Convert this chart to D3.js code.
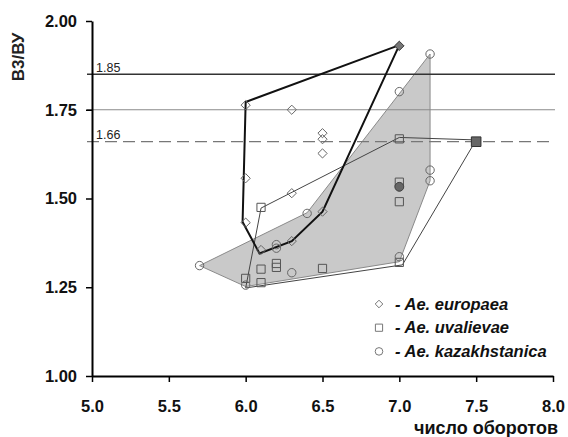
<!DOCTYPE html>
<html>
<head>
<meta charset="utf-8">
<script src="https://cdn.jsdelivr.net/npm/d3@7"></script>
<style>
  body { margin: 0; background: #fff; }
  svg { display: block; font-family: "Liberation Sans", Arial, sans-serif; }
</style>
</head>
<body>
<script>
// points: [число оборотов, В3/ВУ]
const europaea = [
  [7.0, 1.93], [6.0, 1.763], [6.3, 1.75], [6.5, 1.684], [6.5, 1.667], [6.5, 1.627],
  [6.0, 1.557], [6.3, 1.515], [6.0, 1.432], [6.5, 1.463], [6.3, 1.38], [6.1, 1.355]
];
const uvalievae = [
  [7.5, 1.66], [7.0, 1.668], [6.1, 1.475], [7.0, 1.546], [7.0, 1.491], [6.1, 1.301],
  [6.2, 1.306], [6.2, 1.317], [6.5, 1.303], [6.0, 1.275], [6.1, 1.263], [7.0, 1.32]
];
const kazakhstanica = [
  [7.2, 1.907], [7.0, 1.801], [7.2, 1.58], [7.2, 1.55], [7.0, 1.533], [7.0, 1.336],
  [6.4, 1.458], [6.2, 1.37], [6.2, 1.36], [6.3, 1.291], [5.7, 1.311], [6.0, 1.256]
];
// filled (dark) markers
const europaeaMark = [[7.0, 1.93]];
const uvalievaeMark = [[7.5, 1.66]];
const kazakhstanicaMark = [[7.0, 1.533]];

// outlines as drawn in the figure
const europaeaOutline = [[7.0, 1.932], [6.0, 1.772], [5.98, 1.434], [6.09, 1.345], [6.3, 1.38], [6.5, 1.463]];
const uvalievaeOutline = [[6.1, 1.473], [7.0, 1.672], [7.5, 1.665], [7.02, 1.313], [6.0, 1.248]];
const kazakhstanicaOutline = [[5.7, 1.311], [6.4, 1.46], [7.2, 1.907], [7.2, 1.55], [7.0, 1.322], [6.0, 1.252]];

const xTicks = [5.0, 5.5, 6.0, 6.5, 7.0, 7.5, 8.0];
const yTicks = [1.00, 1.25, 1.50, 1.75, 2.00];
const refValues = [1.85, 1.75, 1.66];
const refLabels = ["1.85", "", "1.66"];
const legendNames = ["- Ae. europaea", "- Ae. uvalievae", "- Ae. kazakhstanica"];

const width = 568, height = 437;

const x = d3.scaleLinear().domain([5, 8]).range([92, 553]);
const y = d3.scaleLinear().domain([1, 2]).range([376, 21]);

const svg = d3.select("body").append("svg")
  .attr("width", width)
  .attr("height", height);

const line = d3.line().x(d => x(d[0])).y(d => y(d[1])).curve(d3.curveLinearClosed);

// shaded area of kazakhstanica
svg.append("path")
  .attr("d", line(kazakhstanicaOutline))
  .attr("fill", "#c9c9c9")
  .attr("stroke", "#8a8a8a")
  .attr("stroke-width", 1);

// reference lines
const refStyle = [
  { c: "#333", w: 1.3, dash: null },
  { c: "#8a8a8a", w: 1.2, dash: null },
  { c: "#777", w: 1.2, dash: "12,6" }
];
refValues.forEach((v, i) => {
  svg.append("line")
    .attr("x1", 87).attr("x2", 555)
    .attr("y1", y(v)).attr("y2", y(v))
    .attr("stroke", refStyle[i].c)
    .attr("stroke-width", refStyle[i].w)
    .attr("stroke-dasharray", refStyle[i].dash);
  if (refLabels[i]) {
    svg.append("text")
      .attr("x", 96).attr("y", y(v) - 2.5)
      .attr("font-size", 12.5)
      .attr("fill", "#222")
      .text(refLabels[i]);
  }
});

// uvalievae outline
svg.append("path")
  .attr("d", line(uvalievaeOutline))
  .attr("fill", "none")
  .attr("stroke", "#444")
  .attr("stroke-width", 1);

// europaea outline
svg.append("path")
  .attr("d", line(europaeaOutline))
  .attr("fill", "none")
  .attr("stroke", "#111")
  .attr("stroke-width", 2);

const diamond = s => `M0,${-s}L${s},0L0,${s}L${-s},0Z`;
const square = s => `M${-s},${-s}H${s}V${s}H${-s}Z`;
const circle = r => `M${r},0A${r},${r} 0 1,1 ${-r},0A${r},${r} 0 1,1 ${r},0Z`;

function drawMarks(data, shape, fill, stroke) {
  svg.append("g").selectAll("path")
    .data(data)
    .join("path")
    .attr("transform", d => `translate(${x(d[0])},${y(d[1])})`)
    .attr("d", shape)
    .attr("fill", fill)
    .attr("stroke", stroke)
    .attr("stroke-width", 1);
}

drawMarks(europaea, diamond(4.6), "none", "#666");
drawMarks(uvalievae, square(4.1), "none", "#555");
drawMarks(kazakhstanica, circle(4.2), "none", "#666");
drawMarks(europaeaMark, diamond(4.6), "#777", "#444");
drawMarks(uvalievaeMark, square(4.8), "#666", "#333");
drawMarks(kazakhstanicaMark, circle(4.4), "#666", "#444");

// axes
const xAxis = svg.append("g")
  .attr("transform", `translate(0,${y(1)})`)
  .call(d3.axisBottom(x).tickValues(xTicks).tickFormat(d3.format(".1f")).tickSize(6).tickSizeOuter(0));
const yAxis = svg.append("g")
  .attr("transform", `translate(${x(5)},0)`)
  .call(d3.axisLeft(y).tickValues(yTicks).tickFormat(d3.format(".2f")).tickSize(6).tickSizeOuter(0));

[xAxis, yAxis].forEach(a => {
  a.select(".domain").attr("stroke", "#000").attr("stroke-width", 2);
  a.selectAll(".tick line").attr("stroke", "#000").attr("stroke-width", 1.5);
  a.selectAll(".tick text")
    .attr("fill", "#111")
    .attr("font-size", 16.5)
    .attr("font-weight", "bold")
    .attr("font-family", "'Liberation Sans', Arial, sans-serif");
});
xAxis.selectAll(".tick text").attr("y", 0).attr("dy", 36);
yAxis.selectAll(".tick text").attr("x", -15);

// axis titles
svg.append("text")
  .attr("transform", "translate(24,57) rotate(-90)")
  .attr("text-anchor", "middle")
  .attr("font-size", 17)
  .attr("font-weight", "bold")
  .attr("fill", "#222")
  .text("В3/ВУ");

svg.append("text")
  .attr("x", 558).attr("y", 434)
  .attr("text-anchor", "end")
  .attr("font-size", 18)
  .attr("font-weight", "bold")
  .attr("fill", "#111")
  .text("число оборотов");

// legend
const legendShapes = [diamond(3.8), square(3.6), circle(3.8)];
legendNames.forEach((name, i) => {
  const ly = 304 + i * 23.7;
  svg.append("path")
    .attr("transform", `translate(379,${ly})`)
    .attr("d", legendShapes[i])
    .attr("fill", "none")
    .attr("stroke", "#777")
    .attr("stroke-width", 1);
  svg.append("text")
    .attr("x", 395).attr("y", ly + 5.5)
    .attr("font-size", 16.5)
    .attr("font-weight", "bold")
    .attr("font-style", "italic")
    .attr("fill", "#111")
    .text(name);
});
</script>
</body>
</html>
